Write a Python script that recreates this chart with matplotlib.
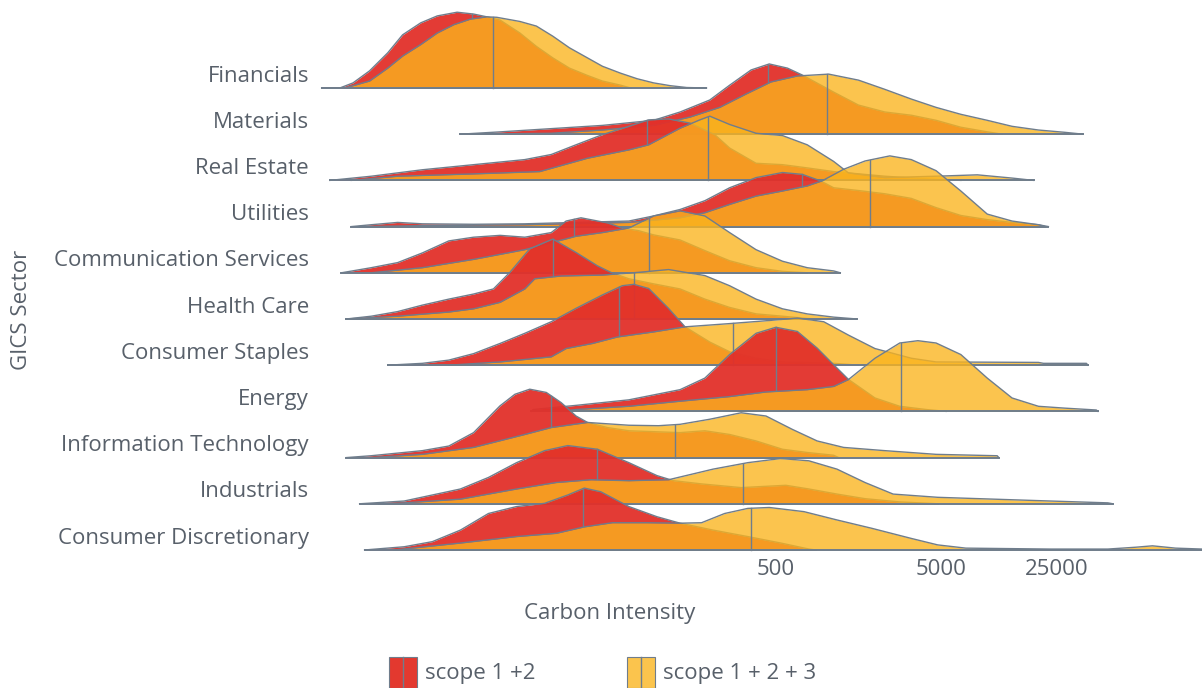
import numpy as np
import matplotlib.pyplot as plt
from matplotlib.patches import Rectangle
from matplotlib.lines import Line2D

plt.rcParams['font.family'] = ['Open Sans', 'DejaVu Sans']

# x values are log10(carbon intensity), y values are density (row heights)
sectors = ["Financials", "Materials", "Real Estate", "Utilities", "Communication Services",
           "Health Care", "Consumer Staples", "Energy", "Information Technology",
           "Industrials", "Consumer Discretionary"]

fin_red_x = [-0.05, 0.06, 0.14, 0.24, 0.35, 0.44, 0.55, 0.65, 0.77, 0.87, 0.95, 1.03, 1.15, 1.25, 1.35, 1.45, 1.56, 1.65, 1.76, 1.82]
fin_red_d = [0, 0, 0.11, 0.37, 0.76, 1.15, 1.41, 1.56, 1.64, 1.60, 1.54, 1.47, 1.19, 0.90, 0.65, 0.43, 0.27, 0.15, 0.06, 0]
fin_yel_x = [0.09, 0.24, 0.35, 0.44, 0.55, 0.65, 0.75, 0.85, 0.95, 1.01, 1.15, 1.25, 1.35, 1.45, 1.56, 1.65, 1.76, 1.86, 1.96, 2.06, 2.16, 2.28]
fin_yel_d = [0, 0.15, 0.43, 0.69, 0.94, 1.19, 1.37, 1.49, 1.54, 1.53, 1.44, 1.34, 1.12, 0.87, 0.65, 0.47, 0.32, 0.20, 0.11, 0.05, 0.01, 0]

mat_red_x = [0.79, 1.03, 1.34, 1.65, 1.96, 2.12, 2.30, 2.42, 2.55, 2.66, 2.77, 2.86, 3.05, 3.20, 3.36, 3.52, 3.67, 3.82, 3.98, 4.07]
mat_red_d = [0, 0.05, 0.12, 0.19, 0.30, 0.48, 0.74, 1.06, 1.39, 1.52, 1.43, 1.28, 0.91, 0.63, 0.48, 0.41, 0.30, 0.15, 0.05, 0]
mat_yel_x = [0.85, 1.34, 1.65, 1.96, 2.18, 2.36, 2.52, 2.67, 2.83, 3.02, 3.20, 3.36, 3.52, 3.67, 3.82, 3.98, 4.13, 4.29, 4.45, 4.56]
mat_yel_d = [0, 0.02, 0.09, 0.19, 0.37, 0.58, 0.87, 1.13, 1.26, 1.30, 1.17, 0.97, 0.76, 0.58, 0.43, 0.30, 0.17, 0.09, 0.04, 0]

re_red_x = [0.00, 0.25, 0.56, 0.87, 1.18, 1.34, 1.49, 1.65, 1.81, 1.93, 2.05, 2.18, 2.33, 2.42, 2.58, 2.74, 2.89, 3.05, 3.36, 3.67, 3.82]
re_red_d = [0, 0.09, 0.23, 0.34, 0.45, 0.56, 0.77, 0.99, 1.17, 1.31, 1.33, 1.24, 0.99, 0.70, 0.37, 0.34, 0.27, 0.19, 0.09, 0.02, 0]
re_yel_x = [0.13, 0.41, 0.87, 1.27, 1.56, 1.81, 1.93, 2.12, 2.24, 2.30, 2.42, 2.58, 2.74, 2.89, 3.05, 3.14, 3.36, 3.67, 3.92, 4.13, 4.26]
re_yel_d = [0, 0.09, 0.14, 0.19, 0.48, 0.66, 0.77, 1.13, 1.31, 1.39, 1.21, 1.02, 0.97, 0.77, 0.41, 0.16, 0.06, 0.09, 0.12, 0.05, 0]

uti_red_x = [0.13, 0.25, 0.41, 0.56, 0.87, 1.18, 1.49, 1.81, 1.96, 2.12, 2.27, 2.42, 2.58, 2.74, 2.86, 2.97, 3.05, 3.20, 3.36, 3.52, 3.67, 3.82, 3.98, 4.13, 4.29, 4.35]
uti_red_d = [0, 0.04, 0.09, 0.06, 0.05, 0.06, 0.09, 0.12, 0.23, 0.37, 0.56, 0.84, 1.06, 1.17, 1.13, 0.99, 0.84, 0.78, 0.71, 0.61, 0.41, 0.24, 0.15, 0.09, 0.04, 0]
uti_yel_x = [0.18, 0.56, 1.18, 1.81, 2.12, 2.27, 2.42, 2.58, 2.74, 2.89, 2.98, 3.11, 3.24, 3.39, 3.52, 3.67, 3.82, 3.98, 4.13, 4.29, 4.33]
uti_yel_d = [0, 0.02, 0.04, 0.09, 0.19, 0.30, 0.48, 0.66, 0.77, 0.88, 0.99, 1.24, 1.42, 1.53, 1.45, 1.21, 0.77, 0.27, 0.12, 0.04, 0]

com_red_x = [0.07, 0.25, 0.41, 0.56, 0.72, 0.87, 1.03, 1.18, 1.34, 1.43, 1.52, 1.68, 1.77, 1.87, 1.96, 2.12, 2.27, 2.42, 2.58, 2.74, 2.89]
com_red_d = [0, 0.11, 0.22, 0.43, 0.69, 0.77, 0.81, 0.77, 0.87, 1.12, 1.19, 1.08, 0.97, 0.91, 0.82, 0.71, 0.48, 0.26, 0.11, 0.03, 0]
com_yel_x = [0.25, 0.56, 0.87, 1.18, 1.34, 1.49, 1.65, 1.81, 1.96, 2.12, 2.27, 2.42, 2.58, 2.74, 2.89, 3.05, 3.09]
com_yel_d = [0, 0.11, 0.29, 0.50, 0.65, 0.79, 0.87, 0.97, 1.23, 1.34, 1.23, 0.87, 0.50, 0.25, 0.11, 0.04, 0]

hc_red_x = [0.10, 0.25, 0.41, 0.56, 0.72, 0.87, 0.99, 1.09, 1.21, 1.35, 1.49, 1.62, 1.70, 1.81, 1.96, 2.12, 2.27, 2.42, 2.58, 2.74, 2.89, 2.97]
hc_red_d = [0, 0.06, 0.16, 0.30, 0.43, 0.54, 0.65, 1.01, 1.52, 1.73, 1.44, 1.15, 1.01, 0.87, 0.76, 0.65, 0.43, 0.25, 0.11, 0.06, 0.01, 0]
hc_yel_x = [0.10, 0.41, 0.72, 0.87, 1.03, 1.18, 1.24, 1.40, 1.65, 1.87, 2.05, 2.27, 2.42, 2.58, 2.74, 2.89, 3.05, 3.19]
hc_yel_d = [0, 0.06, 0.15, 0.22, 0.36, 0.65, 0.87, 0.93, 0.95, 1.01, 1.07, 0.94, 0.72, 0.43, 0.22, 0.11, 0.04, 0]

cst_red_x = [0.35, 0.56, 0.72, 0.87, 1.03, 1.18, 1.34, 1.49, 1.65, 1.77, 1.84, 1.93, 2.05, 2.15, 2.30, 2.42, 2.58, 2.74, 3.05, 3.20]
cst_red_d = [0, 0.04, 0.11, 0.25, 0.47, 0.69, 0.94, 1.23, 1.52, 1.72, 1.75, 1.66, 1.23, 0.83, 0.50, 0.29, 0.15, 0.07, 0.04, 0]
cst_yel_x = [0.72, 1.03, 1.34, 1.43, 1.59, 1.74, 1.96, 2.15, 2.42, 2.67, 2.83, 2.99, 3.14, 3.30, 3.52, 3.67, 4.29, 4.32, 4.58, 4.59]
cst_yel_d = [0, 0.07, 0.18, 0.36, 0.47, 0.61, 0.72, 0.83, 0.90, 0.97, 1.02, 0.94, 0.65, 0.36, 0.15, 0.07, 0.06, 0.04, 0.04, 0]

ene_red_x = [1.22, 1.23, 1.49, 1.81, 2.12, 2.27, 2.42, 2.58, 2.70, 2.83, 2.95, 3.05, 3.14, 3.30, 3.45, 3.61, 3.73]
ene_red_d = [0, 0.04, 0.13, 0.25, 0.47, 0.72, 1.23, 1.69, 1.82, 1.73, 1.37, 1.01, 0.69, 0.29, 0.11, 0.04, 0]
ene_yel_x = [1.40, 1.49, 1.81, 2.12, 2.42, 2.64, 2.89, 3.05, 3.14, 3.30, 3.45, 3.56, 3.67, 3.82, 3.98, 4.13, 4.29, 4.45, 4.64, 4.65]
ene_yel_d = [0, 0.04, 0.11, 0.22, 0.32, 0.42, 0.47, 0.54, 0.69, 1.15, 1.48, 1.53, 1.48, 1.23, 0.72, 0.29, 0.11, 0.07, 0.03, 0]

it_red_x = [0.10, 0.25, 0.56, 0.72, 0.87, 1.03, 1.12, 1.21, 1.31, 1.40, 1.49, 1.56, 1.68, 1.81, 2.12, 2.27, 2.42, 2.58, 2.74, 2.89, 3.05, 3.08]
it_red_d = [0, 0.04, 0.15, 0.25, 0.54, 1.12, 1.37, 1.48, 1.41, 1.19, 0.90, 0.76, 0.65, 0.58, 0.54, 0.58, 0.50, 0.36, 0.18, 0.11, 0.05, 0]
it_yel_x = [0.25, 0.56, 0.87, 1.18, 1.34, 1.56, 1.81, 1.99, 2.12, 2.30, 2.49, 2.64, 2.80, 2.95, 3.11, 3.36, 3.67, 4.04, 4.05]
it_yel_d = [0, 0.07, 0.22, 0.50, 0.65, 0.76, 0.70, 0.69, 0.72, 0.83, 0.97, 0.90, 0.61, 0.36, 0.22, 0.15, 0.07, 0.04, 0]

ind_red_x = [0.18, 0.45, 0.79, 0.96, 1.13, 1.30, 1.44, 1.62, 1.81, 1.98, 2.08, 2.25, 2.49, 2.76, 2.90, 3.07, 3.24, 3.45, 3.68]
ind_red_d = [0, 0.06, 0.32, 0.57, 0.89, 1.15, 1.26, 1.18, 0.89, 0.61, 0.50, 0.43, 0.35, 0.40, 0.32, 0.21, 0.11, 0.04, 0]
ind_yel_x = [0.30, 0.45, 0.79, 1.13, 1.37, 1.58, 1.81, 2.05, 2.32, 2.53, 2.73, 2.90, 3.07, 3.24, 3.41, 3.68, 4.02, 4.36, 4.71, 4.74]
ind_yel_d = [0, 0.02, 0.10, 0.32, 0.46, 0.52, 0.50, 0.52, 0.75, 0.89, 0.98, 0.93, 0.75, 0.46, 0.21, 0.14, 0.10, 0.06, 0.02, 0]

cd_red_x = [0.21, 0.45, 0.62, 0.79, 0.96, 1.13, 1.30, 1.44, 1.54, 1.64, 1.81, 1.98, 2.12, 2.32, 2.53, 2.73, 2.90, 2.94]
cd_red_d = [0, 0.07, 0.18, 0.43, 0.79, 0.94, 1.01, 1.19, 1.34, 1.26, 0.94, 0.72, 0.58, 0.43, 0.29, 0.15, 0.02, 0]
cd_yel_x = [0.39, 0.79, 1.13, 1.37, 1.54, 1.71, 1.92, 2.12, 2.25, 2.39, 2.53, 2.66, 2.87, 3.07, 3.28, 3.52, 3.68, 3.85, 4.36, 4.71, 4.88, 4.98, 5.12, 5.28, 5.36]
cd_yel_d = [0, 0.15, 0.29, 0.36, 0.50, 0.59, 0.59, 0.58, 0.59, 0.79, 0.90, 0.92, 0.83, 0.65, 0.47, 0.25, 0.11, 0.04, 0.02, 0.02, 0.06, 0.09, 0.04, 0.02, 0.01]

# medians, log10(carbon intensity), same order as sectors
red_medians = [0.86, 2.65, 1.92, 2.86, 1.48, 1.35, 1.75, 2.70, 1.34, 1.62, 1.53]
yel_medians = [0.99, 3.01, 2.29, 3.27, 1.93, 1.84, 2.44, 3.46, 2.09, 2.50, 2.55]

tick_values = [500, 5000, 25000]

RED = '#e2302a'
YEL = '#fab41e'
LINE = '#6f7d8c'
TXT = '#58606a'

red_curves = [(fin_red_x, fin_red_d), (mat_red_x, mat_red_d), (re_red_x, re_red_d), (uti_red_x, uti_red_d),
              (com_red_x, com_red_d), (hc_red_x, hc_red_d), (cst_red_x, cst_red_d), (ene_red_x, ene_red_d),
              (it_red_x, it_red_d), (ind_red_x, ind_red_d), (cd_red_x, cd_red_d)]
yel_curves = [(fin_yel_x, fin_yel_d), (mat_yel_x, mat_yel_d), (re_yel_x, re_yel_d), (uti_yel_x, uti_yel_d),
              (com_yel_x, com_yel_d), (hc_yel_x, hc_yel_d), (cst_yel_x, cst_yel_d), (ene_yel_x, ene_yel_d),
              (it_yel_x, it_yel_d), (ind_yel_x, ind_yel_d), (cd_yel_x, cd_yel_d)]


def ridge(ax, base, x, d, med, color, alpha, z, cover=None):
    x = np.asarray(x)
    d = np.asarray(d)
    ax.fill_between(x, base, base + d, color=color, alpha=alpha, lw=0, zorder=z)
    ax.plot(x, base + d, color=LINE, lw=1.0, zorder=z + 0.1)
    ax.plot([x[0], x[-1]], [base, base], color=LINE, lw=1.4, zorder=z + 0.1)
    top = np.interp(med, x, d)
    # the part of the median line hidden under the other curve is not drawn
    bottom = 0.0
    if cover is not None:
        bottom = min(np.interp(med, cover[0], cover[1], left=0, right=0), top)
    ax.plot([med, med], [base + bottom, base + top], color=LINE, lw=1.0, zorder=z + 0.1)


fig = plt.figure(figsize=(12.02, 6.88), dpi=100)
ax = fig.add_axes([320 / 1202, 1 - 554.6 / 688, 882 / 1202, 554.4 / 688])

n = len(sectors)
for i, name in enumerate(sectors):
    base = n - 1 - i
    z = 2 + i
    ridge(ax, base, *red_curves[i], red_medians[i], RED, 0.95, z, cover=yel_curves[i])
    ridge(ax, base, *yel_curves[i], yel_medians[i], YEL, 0.79, z + 0.5)

ax.set_xlim(-0.06, 5.28)
ax.set_ylim(-0.1, 11.9)
for s in ax.spines.values():
    s.set_visible(False)

ax.set_yticks([n - 1 - i + 0.31 for i in range(n)])
ax.set_yticklabels(sectors)
ax.set_xticks(np.log10(tick_values))
ax.set_xticklabels([str(v) for v in tick_values])
ax.tick_params(axis='y', length=0, pad=8, labelsize=16, labelcolor=TXT)
ax.tick_params(axis='x', length=0, pad=3, labelsize=16, labelcolor=TXT)

fig.text(22 / 1202, 1 - 310 / 688, 'GICS Sector', rotation=90, ha='center', va='center',
         fontsize=16, color=TXT)
fig.text(610 / 1202, 1 - 614 / 688, 'Carbon Intensity', ha='center', va='center',
         fontsize=16, color=TXT)

# legend
for x0, col, label in [(389, '#e3392f', 'scope 1 +2'), (627, '#fbc44d', 'scope 1 + 2 + 3')]:
    fig.add_artist(Rectangle((x0 / 1202, 0), 28 / 1202, 31 / 688, transform=fig.transFigure,
                             facecolor=col, edgecolor=LINE, lw=0.8))
    fig.add_artist(Line2D([(x0 + 14) / 1202] * 2, [0, 31 / 688], transform=fig.transFigure,
                          color=LINE, lw=1.0))
    fig.text((x0 + 36) / 1202, 1 - 674 / 688, label, ha='left', va='center', fontsize=16, color=TXT)

fig.savefig('out.png', dpi=100)
